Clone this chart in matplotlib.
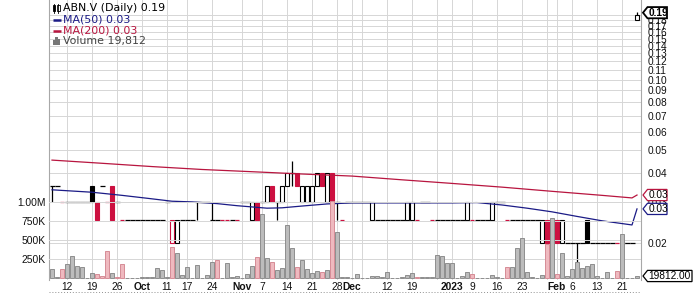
import pandas as pd
import matplotlib
matplotlib.use('Agg')
import matplotlib.pyplot as plt
from matplotlib.patches import Rectangle, Polygon

W, H = 700, 293

# trading days (TSX-V holidays removed)
holidays = ['2022-10-10', '2022-12-26', '2022-12-27', '2023-01-02', '2023-02-20']
dates = pd.bdate_range('2022-09-07', '2023-02-24')
dates = dates[~dates.isin(pd.to_datetime(holidays))]

opens = [.035, .035, .03, .03, .03, .03, .03, .03, .035, .03,
         .035, .03, .035, .03, .025, .025, .025, .025, .025, .025,
         .025, .025, .025, .03, .02, .02, .025, .025, .025, .03,
         .03, .03, .025, .025, .025, .025, .025, .025, .03, .03,
         .025, .03, .03, .03, .035, .03, .03, .035, .04, .04,
         .03, .03, .03, .035, .04, .03, .04, .03, .025, .03,
         .03, .03, .03, .03, .025, .025, .025, .025, .025, .025,
         .025, .025, .025, .025, .03, .03, .025, .025, .025, .025,
         .025, .025, .025, .025, .025, .025, .025, .025, .025, .03,
         .03, .025, .025, .025, .025, .025, .025, .025, .02, .025,
         .025, .025, .02, .02, .02, .02, .02, .025, .02, .02,
         .02, .02, .02, .02, .02, .02, .02, .18]
highs = [.035, .035, .03, .03, .03, .03, .03, .03, .035, .03,
         .035, .03, .035, .03, .025, .025, .025, .025, .025, .025,
         .025, .025, .025, .03, .025, .025, .025, .025, .025, .03,
         .03, .03, .03, .025, .025, .025, .025, .025, .03, .03,
         .03, .03, .03, .035, .035, .03, .035, .04, .045, .04,
         .035, .035, .035, .04, .04, .04, .04, .03, .025, .03,
         .03, .03, .03, .03, .03, .025, .025, .025, .025, .025,
         .025, .03, .03, .025, .03, .03, .025, .025, .025, .025,
         .025, .025, .025, .03, .025, .025, .025, .025, .03, .03,
         .03, .025, .025, .025, .025, .025, .025, .025, .025, .025,
         .025, .025, .025, .02, .02, .02, .02, .025, .02, .02,
         .02, .02, .02, .02, .02, .02, .02, .195]
lows = [.03, .035, .03, .03, .03, .03, .03, .03, .03, .025,
        .035, .03, .025, .03, .025, .025, .025, .025, .025, .025,
        .025, .025, .025, .03, .02, .02, .025, .025, .025, .025,
        .03, .03, .025, .025, .025, .025, .025, .025, .03, .03,
        .025, .025, .03, .03, .03, .025, .03, .035, .035, .035,
        .03, .03, .03, .035, .035, .03, .03, .025, .025, .03,
        .03, .03, .03, .03, .025, .025, .025, .025, .025, .025,
        .025, .025, .025, .025, .03, .03, .025, .025, .025, .025,
        .025, .025, .025, .025, .025, .025, .025, .025, .025, .03,
        .03, .025, .025, .025, .025, .025, .025, .025, .02, .02,
        .02, .02, .02, .02, .02, .015, .02, .02, .02, .02,
        .02, .02, .02, .02, .02, .02, .02, .18]
closes = [.035, .035, .03, .03, .03, .03, .03, .03, .03, .025,
          .035, .03, .025, .03, .025, .025, .025, .025, .025, .025,
          .025, .025, .025, .03, .025, .025, .025, .025, .025, .03,
          .03, .03, .025, .025, .025, .025, .025, .025, .03, .03,
          .03, .025, .03, .035, .03, .03, .035, .04, .04, .035,
          .035, .035, .035, .04, .035, .04, .03, .03, .025, .03,
          .03, .03, .03, .03, .03, .025, .025, .025, .025, .025,
          .025, .03, .03, .025, .03, .03, .025, .025, .025, .025,
          .025, .025, .025, .03, .025, .025, .025, .025, .03, .03,
          .03, .025, .025, .025, .025, .025, .025, .025, .025, .02,
          .02, .02, .025, .02, .02, .02, .02, .02, .02, .02,
          .02, .02, .02, .02, .02, .02, .02, .19]
# 1 = red candle (close below previous close)
candle_down = [0, 0, 1, 0, 0, 0, 0, 0, 0, 1,
               0, 1, 1, 0, 1, 0, 0, 0, 0, 0,
               0, 0, 0, 0, 1, 0, 0, 0, 0, 0,
               0, 0, 0, 0, 1, 1, 0, 1, 0, 0,
               0, 1, 0, 0, 1, 0, 0, 0, 0, 1,
               0, 0, 0, 0, 1, 0, 1, 0, 1, 0,
               0, 0, 0, 0, 0, 0, 0, 0, 0, 0,
               0, 0, 0, 1, 0, 0, 1, 0, 0, 0,
               0, 0, 0, 0, 1, 0, 0, 0, 0, 0,
               0, 1, 0, 0, 0, 0, 0, 0, 0, 1,
               1, 1, 0, 0, 0, 0, 0, 0, 0, 0,
               0, 0, 0, 1, 0, 0, 0, 0]

volumes = [118000, 10000, 118000, 184000, 294000, 162000, 145000, 0, 66000, 53000,
           30000, 355000, 66000, 13000, 184000, 0, 0, 0, 8000, 8000,
           8000, 131000, 105000, 10000, 408000, 330000, 44000, 145000, 0, 171000,
           0, 40000, 206000, 237000, 0, 197000, 18000, 26000, 0, 53000,
           158000, 276000, 838000, 259000, 210000, 105000, 127000, 697000, 395000, 145000,
           232000, 114000, 66000, 96000, 75000, 105000, 1018000, 600000, 13000, 10000,
           0, 57000, 0, 0, 26000, 26000, 13000, 79000, 0, 0,
           13000, 35000, 66000, 18000, 8000, 8000, 8000, 307000, 290000, 202000,
           202000, 0, 26000, 79000, 53000, 0, 0, 0, 40000, 18000,
           0, 150000, 150000, 390000, 526000, 75000, 18000, 0, 44000, 447000,
           785000, 53000, 330000, 30000, 118000, 206000, 131000, 153000, 180000, 30000,
           0, 75000, 0, 92000, 580000, 0, 0, 19812]
vol_down = [0, 0, 1, 0, 0, 0, 0, 0, 0, 1,
            1, 1, 0, 1, 1, 0, 0, 0, 0, 0,
            0, 0, 0, 0, 1, 0, 0, 0, 0, 0,
            0, 0, 0, 1, 0, 0, 0, 0, 0, 0,
            0, 1, 0, 0, 1, 0, 0, 0, 0, 1,
            0, 0, 0, 0, 1, 0, 1, 0, 0, 0,
            0, 0, 0, 0, 0, 0, 0, 0, 0, 0,
            0, 0, 0, 1, 0, 0, 0, 0, 0, 0,
            0, 0, 0, 0, 1, 0, 0, 0, 0, 0,
            0, 1, 0, 0, 0, 0, 0, 0, 0, 1,
            0, 1, 0, 0, 0, 0, 0, 0, 0, 0,
            0, 0, 0, 1, 0, 0, 0, 0]

# moving averages (bar index, value)
ma50_idx = [0, 8, 14, 19, 24, 28, 33, 37, 43, 46, 50, 55, 60, 70, 80, 85, 90, 95, 100, 105, 110, 116, 117]
ma50 = [.0338, .0330, .0320, .0311, .0302, .0300, .0295, .0289, .0282, .0283, .0288, .0294, .0297,
        .0297, .0297, .0298, .0291, .0282, .0272, .0260, .0249, .0239, .0280]
ma200_idx = [0, 10, 20, 30, 40, 50, 60, 70, 80, 90, 100, 110, 116, 117]
ma200 = [.0453, .0439, .0425, .0413, .0404, .0395, .0387, .0373, .0360, .0347, .0333, .0320, .0312, .0321]

grid_days = ['2022-09-12', '2022-09-19', '2022-09-26', '2022-10-03', '2022-10-11', '2022-10-17',
             '2022-10-24', '2022-11-01', '2022-11-07', '2022-11-14', '2022-11-21', '2022-11-28',
             '2022-12-01', '2022-12-05', '2022-12-12', '2022-12-19', '2022-12-28', '2023-01-03',
             '2023-01-09', '2023-01-16', '2023-01-23', '2023-01-30', '2023-02-01', '2023-02-06',
             '2023-02-13', '2023-02-21']
grid_labels = ['12', '19', '26', 'Oct', '11', '17', '24', 'Nov', '7', '14', '21', '28',
               'Dec', '', '12', '19', '', '2023', '9', '16', '23', '', 'Feb', '6', '13', '21']
bold_labels = ['Oct', 'Nov', 'Dec', '2023', 'Feb']

price_ticks = [0.02, 0.03, 0.04, 0.05, 0.06, 0.07, 0.08, 0.09, 0.10, 0.11,
               0.12, 0.13, 0.14, 0.15, 0.16, 0.17, 0.18, 0.19]
vol_ticks = [250000, 500000, 750000, 1000000]
vol_tick_labels = ['250K', '500K', '750K', '1.00M']

RED = '#cc1040'
NAVY = '#1b1b86'
MA_RED = '#b8153f'
GRID = '#d6d6d6'
FONT = 'Liberation Sans'

x = list(range(len(dates)))

fig = plt.figure(figsize=(W / 100, H / 100), dpi=100)
ax = fig.add_axes([49 / W, 1 - 280 / H, 592 / W, 280 / H])
ax.set_yscale('log')
ax.set_xlim(-0.6, 117.8)
ax.set_ylim(0.01389, 0.2196)

axv = ax.twinx()
axv.set_ylim(-26300, 3658000)

# price axis on the right
ax.yaxis.tick_right()
ax.set_yticks(price_ticks)
ax.set_yticklabels([f'{p:.2f}' for p in price_ticks])
ax.yaxis.set_minor_locator(plt.NullLocator())
ax.tick_params(axis='y', which='both', length=0, pad=5, labelsize=7.3, labelcolor='#111111')
for lab in ax.get_yticklabels():
    lab.set_family(FONT)

tick_pos = [dates.get_loc(pd.Timestamp(d)) for d in grid_days]
ax.set_xticks(tick_pos)
ax.set_xticklabels(grid_labels)
ax.tick_params(axis='x', length=0, pad=1.5, labelsize=7.4, labelcolor='#111111')
for lab in ax.get_xticklabels():
    lab.set_family(FONT)
    if lab.get_text() in bold_labels:
        lab.set_fontweight('bold')

ax.grid(True, which='major', color=GRID, lw=0.7)
ax.set_axisbelow(True)

# volume axis on the left
axv.yaxis.tick_left()
axv.set_yticks(vol_ticks)
axv.set_yticklabels(vol_tick_labels)
axv.tick_params(axis='y', length=0, pad=2.5, labelsize=7.4, labelcolor='#111111')
for lab in axv.get_yticklabels():
    lab.set_family(FONT)
axv.grid(True, axis='y', color=GRID, lw=0.7)
axv.set_axisbelow(True)

for a in (ax, axv):
    a.spines['top'].set_visible(False)
    a.spines['bottom'].set_visible(False)
for s in ('left', 'right'):
    ax.spines[s].set_color('#a8a8a8')
    ax.spines[s].set_linewidth(0.8)
    axv.spines[s].set_visible(False)

# candles
for k in x:
    o, h, l, c = opens[k], highs[k], lows[k], closes[k]
    col = RED if candle_down[k] else 'black'
    if h > max(o, c) or l < min(o, c):
        ax.vlines(k, l, h, color=col, lw=0.9, zorder=3)
    if o == c:
        half = 0.4 if candle_down[k] else 0.5
        ax.hlines(o, k - half, k + half, color=col, lw=0.9, zorder=3)
    else:
        lo, hi = min(o, c), max(o, c)
        face = 'white' if c > o else col
        ax.add_patch(Rectangle((k - 0.37, lo), 0.74, hi - lo, fc=face, ec=col, lw=0.8, zorder=4))

ax.plot(ma200_idx, ma200, color=MA_RED, lw=0.9, zorder=5)
ax.plot(ma50_idx, ma50, color=NAVY, lw=0.9, zorder=5)

# volume bars
vfaces = ['#efb9bf' if d else '#bcbcbc' for d in vol_down]
vedges = ['#d68c96' if d else '#8e8e8e' for d in vol_down]
axv.bar(x, volumes, width=0.82, color=vfaces, edgecolor=vedges, lw=0.7, zorder=3)

# overlay in pixel coordinates for legend and callouts
ov = fig.add_axes([0, 0, 1, 1])
ov.set_xlim(0, W)
ov.set_ylim(H, 0)
ov.axis('off')
ov.set_zorder(10)

LEG = 'DejaVu Sans'
LS = 7.9
ov.text(63, 8.3, 'ABN.V (Daily) 0.19', va='center', ha='left', fontsize=LS, family=LEG, color='black')
ov.text(63, 19.8, 'MA(50) 0.03', va='center', ha='left', fontsize=LS, family=LEG, color=NAVY)
ov.text(63, 30.6, 'MA(200) 0.03', va='center', ha='left', fontsize=LS, family=LEG, color=MA_RED)
ov.text(63, 40.7, 'Volume 19,812', va='center', ha='left', fontsize=LS, family=LEG, color='#444444')
# legend icons
ov.add_patch(Rectangle((52.5, 5), 2.5, 6, fc='black', ec='black', lw=0.6))
ov.add_patch(Rectangle((57, 5), 2.5, 6, fc='white', ec='black', lw=0.6))
ov.plot([53.75, 53.75], [3.5, 12.5], color='black', lw=0.6)
ov.plot([58.25, 58.25], [3.5, 12.5], color='black', lw=0.6)
ov.plot([52.5, 61], [19.8, 19.8], color=NAVY, lw=1.8, solid_capstyle='butt')
ov.plot([52.5, 61], [30.6, 30.6], color=MA_RED, lw=1.8, solid_capstyle='butt')
for bx, bh in zip([52.5, 55.3, 58.1], [5, 8, 6]):
    ov.add_patch(Rectangle((bx, 44.5 - bh), 2.2, bh, fc='#777777', ec='none'))

ov.plot([49, 641], [291.5, 291.5], ls=(0, (1, 2)), color='#909090', lw=0.7)


def to_pix(axes, val):
    return H - axes.transData.transform((0, val))[1]


def callout(ypix, text, color, right, bold=False, lw=0.9):
    pts = [(643, ypix), (647.5, ypix - 5.6), (right, ypix - 5.6), (right, ypix + 5.6), (647.5, ypix + 5.6)]
    ov.add_patch(Polygon(pts, closed=True, fc='white', ec=color, lw=lw))
    ov.text(648.5, ypix + 0.3, text, va='center', ha='left', fontsize=7.3, family=FONT,
            color='black', fontweight='bold' if bold else 'normal')


callout(to_pix(ax, closes[-1]) - 2, '0.19', 'black', 667, bold=True, lw=1.3)
callout(to_pix(ax, ma200[-1]), '0.03', MA_RED, 667)
callout(to_pix(ax, ma50[-1]), '0.03', NAVY, 667)
callout(to_pix(axv, volumes[-1]) - 0.5, '19812.00', 'black', 692)

fig.savefig('out.png', dpi=100)
